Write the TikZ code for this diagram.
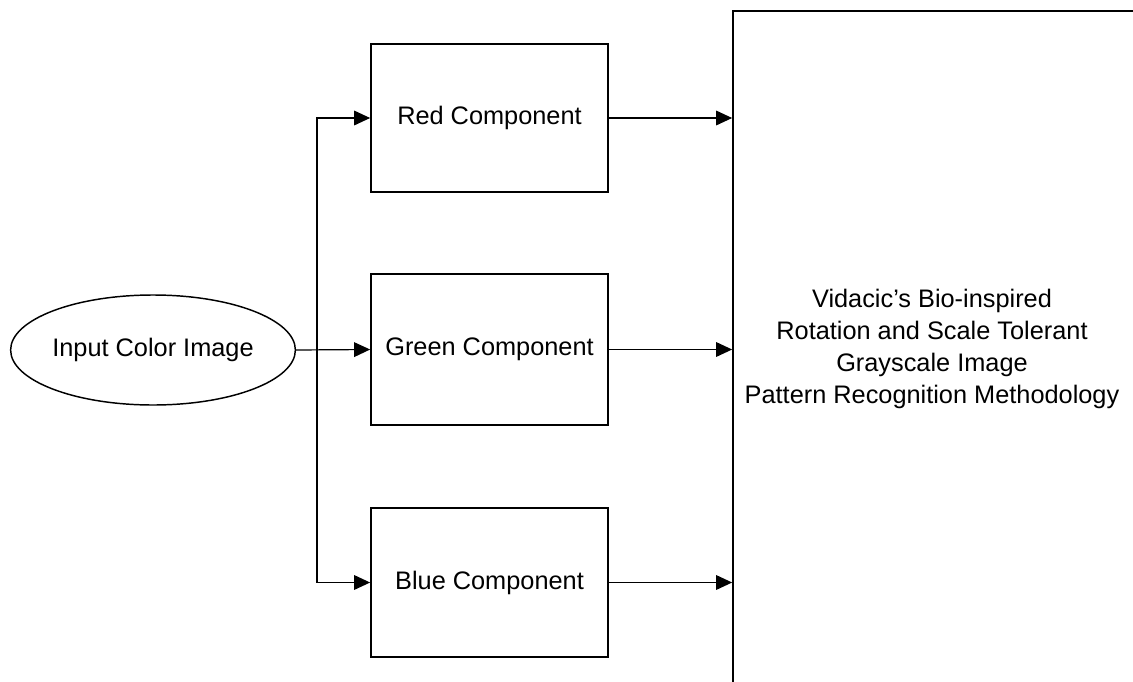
\documentclass[tikz,border=0pt]{standalone}
\usepackage{fontspec}
\setmainfont{Liberation Sans}
\usetikzlibrary{shapes.geometric,arrows.meta}
\begin{document}
\begin{tikzpicture}[x=0.75pt,y=-0.75pt,
  every node/.style={font=\fontsize{19}{23.8}\selectfont},
  compbox/.style={draw,line width=1.3pt,rectangle,inner sep=0pt,
    minimum width=177.75pt},
  inbox/.style={draw,line width=1.1pt,ellipse,inner sep=0pt,
    minimum width=212pt,minimum height=82.5pt},
  bigbox/.style={draw,line width=1.3pt,rectangle,inner sep=0pt,
    minimum width=309pt,minimum height=516.75pt},
  arr/.style={line width=0.9pt,-{Triangle[length=12pt,width=11pt]}},
  link/.style={line width=0.9pt}]
\useasboundingbox (0,0) rectangle (1133,682);

% input image
\node[inbox] (in) at (153,350) {Input Color Image};

% colour components
\node[compbox,minimum height=111pt] (red) at (489.5,118) {Red Component};
\node[compbox,minimum height=113.25pt] (green) at (489.5,349.5) {Green Component};
\node[compbox,minimum height=111.75pt] (blue) at (489.5,582.5) {Blue Component};

% recognition stage (runs past the page edge)
\begin{scope}
  \clip (0,0) rectangle (1133,682);
  \node[bigbox] (big) at (939,355.5) {};
\end{scope}
\node[align=center] (method) at (932,349)
  {Vidacic's Bio-inspired\\Rotation and Scale Tolerant\\Grayscale Image\\Pattern Recognition Methodology};

% fan-out from the input
\coordinate (fork) at (317,350);
\draw[arr] (in.east) -- (green.west);
\draw[arr] (fork) |- (red.west);
\draw[arr] (fork) |- (blue.west);

% components into the recognition stage
\draw[arr] (red.east) -- (red.east -| big.west);
\draw[arr] (green.east) -- (green.east -| big.west);
\draw[arr] (blue.east) -- (blue.east -| big.west);
\end{tikzpicture}
\end{document}
